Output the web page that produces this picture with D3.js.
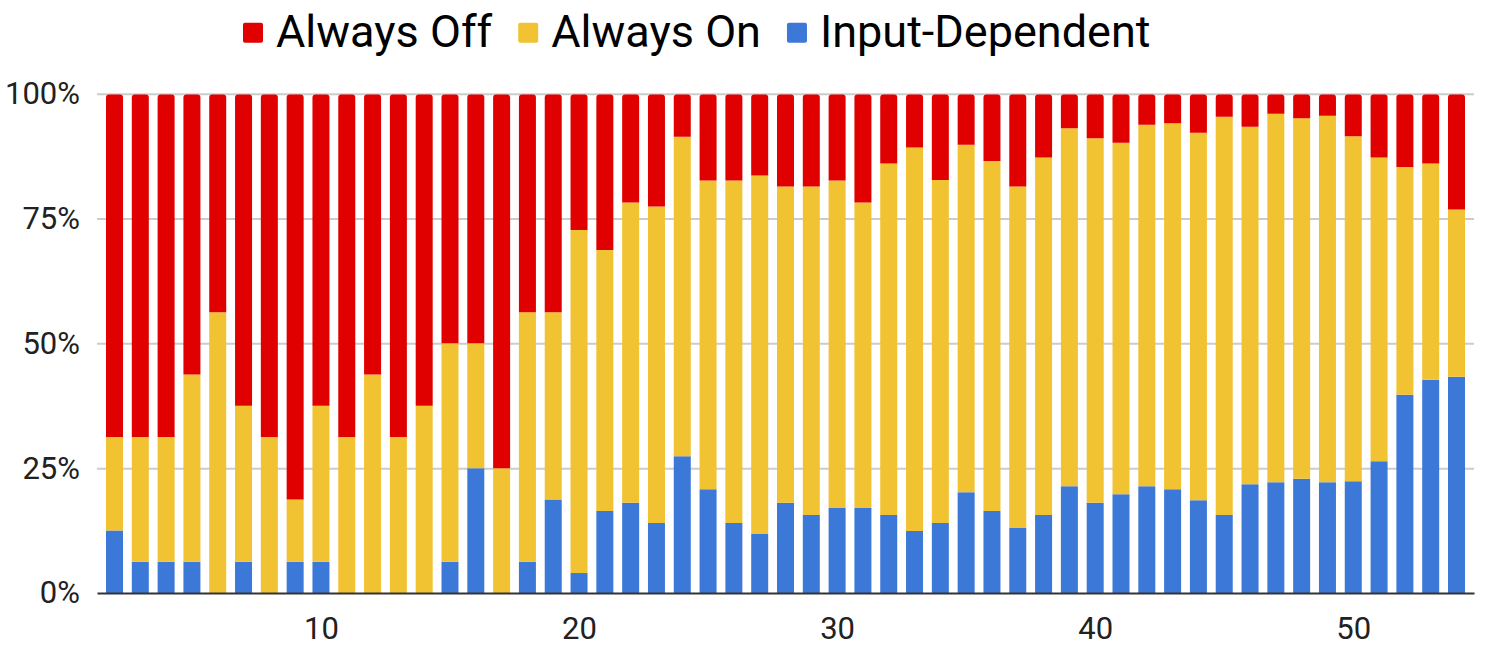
<!DOCTYPE html>
<html>
<head>
<meta charset="utf-8">
<script src="https://cdn.jsdelivr.net/npm/d3@7"></script>
<style>
  html, body { margin: 0; padding: 0; background: #fff; }
  svg { display: block; font-family: Roboto, "Noto Sans", sans-serif; }
</style>
</head>
<body>
<svg id="chart" width="1504" height="649"></svg>
<script>
// ---- data ----
const categories = [2, 3, 4, 5, 6, 7, 8, 9, 10, 11, 12, 13, 14, 15, 16, 17, 18, 19,
  20, 21, 22, 23, 24, 25, 26, 27, 28, 29, 30, 31, 32, 33, 34, 35, 36, 37, 38, 39,
  40, 41, 42, 43, 44, 45, 46, 47, 48, 49, 50, 51, 52, 53, 54];

const inputDependent = [12.5, 6.25, 6.25, 6.25, 0, 6.25, 0, 6.25, 6.25, 0, 0, 0, 0, 6.25, 25, 0, 6.25, 18.75,
  4.0, 16.4, 18.1, 14.0, 27.4, 20.8, 14.0, 11.8, 18.1, 15.6,
  17.0, 17.0, 15.6, 12.4, 14.0, 20.2, 16.4, 13.0, 15.6, 21.4,
  18.1, 19.8, 21.4, 20.8, 18.6, 15.6, 21.8, 22.2, 22.9, 22.2,
  22.4, 26.4, 39.7, 42.7, 43.3];

const alwaysOn = [18.75, 25, 25, 37.5, 56.25, 31.25, 31.25, 12.5, 31.25, 31.25, 43.75, 31.25, 37.5, 43.75, 25, 25, 50, 37.5,
  68.7, 52.3, 60.1, 63.4, 64.0, 61.8, 68.6, 71.8, 63.3, 65.8,
  65.6, 61.2, 70.4, 76.8, 68.7, 69.6, 70.1, 68.4, 71.6, 71.7,
  73.0, 70.4, 72.4, 73.3, 73.6, 79.8, 71.6, 73.8, 72.2, 73.4,
  69.1, 60.8, 45.6, 43.3, 33.5];

const alwaysOff = [68.75, 68.75, 68.75, 56.25, 43.75, 62.5, 68.75, 81.25, 62.5, 68.75, 56.25, 68.75, 62.5, 50, 50, 75, 43.75, 43.75,
  27.3, 31.3, 21.8, 22.6, 8.6, 17.4, 17.4, 16.4, 18.6, 18.6,
  17.4, 21.8, 14.0, 10.8, 17.3, 10.2, 13.5, 18.6, 12.8, 6.9,
  8.9, 9.8, 6.2, 5.9, 7.8, 4.6, 6.6, 4.0, 4.9, 4.4,
  8.5, 12.8, 14.7, 14.0, 23.2];

const seriesNames = ["Always Off", "Always On", "Input-Dependent"];
const yTicks = [0, 25, 50, 75, 100];
const xTicks = [10, 20, 30, 40, 50];

(function () {
// ---- styles ----
const colors = { "Always Off": "#e00000", "Always On": "#f1c232", "Input-Dependent": "#3c78d8" };

const svg = d3.select("#chart");
const mLeft = 97, mRight = 1474, mTop = 93.7, mBottom = 593;
const pad = 0.678;
const barW = 17;

const x = d3.scaleLinear()
  .domain([d3.min(categories) - pad, d3.max(categories) + pad])
  .range([mLeft, mRight]);
const y = d3.scaleLinear().domain([0, 100]).range([mBottom, mTop]);

const rows = categories.map((c, i) => ({
  cat: c,
  "Input-Dependent": inputDependent[i],
  "Always On": alwaysOn[i],
  "Always Off": alwaysOff[i]
}));

const stackKeys = ["Input-Dependent", "Always On", "Always Off"];
const stacked = d3.stack().keys(stackKeys)(rows);

// gridlines
const yAxis = d3.axisLeft(y).tickValues(yTicks).tickFormat(d => d + "%").tickSize(-(mRight - mLeft)).tickPadding(17);
const gy = svg.append("g").attr("transform", `translate(${mLeft},0)`).call(yAxis);
gy.select(".domain").remove();
gy.selectAll(".tick line").attr("stroke", "#cccccc").attr("stroke-width", 2);
gy.selectAll(".tick text").attr("fill", "#212121").attr("font-size", 31).attr("font-family", "Roboto");
gy.selectAll(".tick").filter(d => d === 0).select("line").remove();

// bars
function roundedTop(x0, y0, w, h, r) {
  r = Math.min(r, h, w / 2);
  return `M${x0},${y0 + h}V${y0 + r}Q${x0},${y0} ${x0 + r},${y0}H${x0 + w - r}Q${x0 + w},${y0} ${x0 + w},${y0 + r}V${y0 + h}Z`;
}

stacked.forEach(layer => {
  const key = layer.key;
  const g = svg.append("g").attr("fill", colors[key]);
  g.selectAll("path").data(layer.filter(d => d[1] - d[0] > 0)).join("path")
    .attr("d", d => {
      const x0 = x(d.data.cat) - barW / 2;
      const y0 = y(d[1]);
      const h = y(d[0]) - y(d[1]);
      if (key === "Always Off") return roundedTop(x0, y0 + 0.8, barW, h - 0.8, 3);
      return `M${x0},${y0}h${barW}v${h}h${-barW}Z`;
    });
});

// baseline + x axis
const xAxis = d3.axisBottom(x).tickValues(xTicks).tickSize(0).tickPadding(24).tickFormat(d3.format("d"));
const gx = svg.append("g").attr("transform", `translate(0,${mBottom})`).call(xAxis);
gx.select(".domain").attr("stroke", "#333333").attr("stroke-width", 2);
gx.selectAll(".tick text").attr("fill", "#212121").attr("font-size", 31).attr("font-family", "Roboto");

// legend
const legend = svg.append("g");
let lx = 243;
seriesNames.forEach(name => {
  legend.append("rect").attr("x", lx).attr("y", 22.7).attr("width", 20).attr("height", 20)
    .attr("rx", 2).attr("fill", colors[name]);
  const t = legend.append("text").attr("x", lx + 33).attr("y", 47)
    .attr("font-size", 45).attr("font-family", "Roboto").attr("fill", "#000").text(name);
  lx = lx + 33 + t.node().getComputedTextLength() + 26;
});
})();
</script>
</body>
</html>
